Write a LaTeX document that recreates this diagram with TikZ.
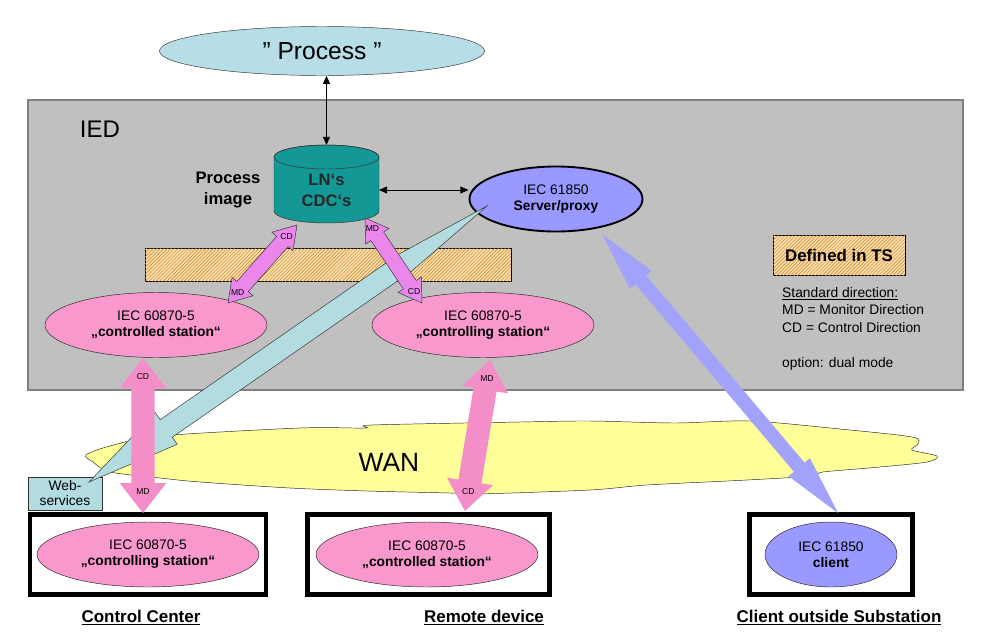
\documentclass[tikz,border=0pt]{standalone}
\usepackage{fontspec}
\setmainfont{Liberation Sans}
\usetikzlibrary{shapes.geometric, arrows.meta, patterns, calc}

\definecolor{procblue}{RGB}{183,221,230}
\definecolor{webblue}{RGB}{178,220,224}
\definecolor{iedgray}{RGB}{192,192,192}
\definecolor{iedborder}{RGB}{128,128,128}
\definecolor{dbteal}{RGB}{20,152,150}
\definecolor{lav}{RGB}{153,153,255}
\definecolor{lavarr}{RGB}{162,162,250}
\definecolor{pinkfill}{RGB}{248,152,204}
\definecolor{pinkarr}{RGB}{244,142,200}
\definecolor{mdviolet}{RGB}{235,135,235}
\definecolor{hatchbg}{RGB}{252,224,172}
\definecolor{hatchln}{RGB}{200,128,40}
\definecolor{wanyellow}{RGB}{255,255,153}

\tikzset{
  stat/.style={ellipse, draw=black!85, fill=pinkfill, minimum width=6.66cm, minimum height=1.95cm,
    inner sep=0pt, align=center, font=\fontsize{11.8}{13.6}\selectfont},
  hatchbox/.style={draw, fill=hatchbg, postaction={pattern=north east lines, pattern color=hatchln}},
  site/.style={draw, line width=4pt},
  sitecap/.style={font=\fontsize{14.5}{16}\selectfont\bfseries},
  boldlbl/.style={align=center, font=\fontsize{14.2}{18}\selectfont\bfseries},
  dirlbl/.style={font=\fontsize{7.3}{8}\selectfont, inner sep=0pt},
  linkarrow/.style={{Triangle[length=7pt,width=6pt]}-{Triangle[length=7pt,width=6pt]}, line width=0.8pt},
  mdcd/.style={draw=black!80, fill=mdviolet},
  pinkarrow/.style={fill=pinkarr},
  clientarrow/.style={fill=lavarr},
  webarrow/.style={draw=black!80, fill=webblue}
}

% block arrow with two heads: style, from, to, head length, head half width, shaft half width
\newcommand{\dblarrow}[6]{%
  \path[#1] (#2) -- ($(#2)!#4!(#3)!#5!90:(#3)$) -- ($(#2)!#4!(#3)!#6!90:(#3)$)
    -- ($(#3)!#4!(#2)!#6!-90:(#2)$) -- ($(#3)!#4!(#2)!#5!-90:(#2)$) -- (#3)
    -- ($(#3)!#4!(#2)!#5!90:(#2)$) -- ($(#3)!#4!(#2)!#6!90:(#2)$)
    -- ($(#2)!#4!(#3)!#6!-90:(#3)$) -- ($(#2)!#4!(#3)!#5!-90:(#3)$) -- cycle;}

\begin{document}
\begin{tikzpicture}[x=0.03cm, y=-0.03cm]
  \fill[white] (0,0) rectangle (981,641);
  \useasboundingbox (0,0) rectangle (981,641);

  % process and IED frame
  \node[ellipse, draw=black!80, fill=procblue, minimum width=9.75cm, minimum height=1.47cm,
    inner sep=0pt, font=\fontsize{21}{24}\selectfont] (proc) at (322,51) {" Process "};
  \draw[draw=iedborder, fill=iedgray, line width=2pt] (28,100) rectangle (963,390);
  \node[font=\fontsize{20.5}{24}\selectfont] (ied) at (100,129) {IED};
  \node[hatchbox, minimum width=10.98cm, minimum height=0.99cm] (tsbar) at (328,264.5) {};

  % process image
  \filldraw[fill=dbteal, draw=black!80] (274,157) -- (274,211)
    arc[start angle=180, end angle=0, x radius=52.5, y radius=12] -- (379,157)
    arc[start angle=0, end angle=-180, x radius=52.5, y radius=12] -- cycle;
  \draw[draw=black!80] (326.5,157) ellipse[x radius=52.5, y radius=12];
  \node[boldlbl, text=black!85] (db) at (326.5,190) {LN‘s\\CDC‘s};
  \node[boldlbl] (pimg) at (228,190) {Process\\image};
  \coordinate (dbtop) at (326.5,145);
  \coordinate (dbright) at (379,190);

  \node[ellipse, draw, line width=1.6pt, fill=lav, minimum width=5.19cm, minimum height=1.95cm,
    inner sep=0pt, align=center, font=\fontsize{11.8}{13.6}\selectfont] (srv) at (556,199)
    {IEC 61850\\\textbf{Server/proxy}};
  \draw[linkarrow] (proc.south -| dbtop) -- (dbtop);
  \draw[linkarrow] (dbright) -- (dbright -| srv.west);

  \node[stat] (ctrld) at (156,325) {IEC 60870-5\\\textbf{„controlled station“}};
  \node[stat] (ctrlg) at (483,325) {IEC 60870-5\\\textbf{„controlling station“}};

  % legend
  \node[hatchbox, minimum width=3.96cm, minimum height=1.2cm,
    font=\fontsize{14.4}{16}\selectfont\bfseries] (defts) at (839,255) {Defined in TS};
  \node[anchor=north west, align=left, inner sep=0pt, font=\fontsize{11.8}{14.9}\selectfont] (legend)
    at (782,287) {\underline{Standard direction:}\\MD = Monitor Direction\\CD = Control Direction\\[14.9pt]option: dual mode};

  % WAN
  \draw[fill=wanyellow, draw=black!85] plot[smooth cycle, tension=0.5] coordinates {
    (86,455) (110,446) (160,436) (300,428) (365,428) (372,425) (520,422) (590,421)
    (675,423) (750,421) (840,429) (912,437) (918,444) (912,450) (937,456) (927,462)
    (880,467) (823,472) (812,476) (747,480) (647,485) (590,490) (477,494) (450,493)
    (367,491) (290,488) (200,482) (160,478) (110,472) (93,462)};
  \node[font=\fontsize{22.5}{26}\selectfont] (wan) at (389,462) {WAN};

  \node[draw=black!80, fill=webblue, align=center, inner sep=0pt, minimum width=2.22cm,
    minimum height=0.99cm, font=\fontsize{11.8}{12.8}\selectfont] (web) at (65,493.5) {Web-\\services};

  % sites
  \node[site, minimum width=7.08cm, minimum height=2.4cm] (cc) at (148,554.5) {};
  \node[stat] (ccst) at (148,554.5) {IEC 60870-5\\\textbf{„controlling station“}};
  \node[sitecap] (cclbl) at (141,618) {\underline{Control Center}};
  \node[site, minimum width=7.26cm, minimum height=2.4cm] (rd) at (428.5,554.5) {};
  \node[stat] (rdst) at (427,554.5) {IEC 60870-5\\\textbf{„controlled station“}};
  \node[sitecap] (rdlbl) at (484,618) {\underline{Remote device}};
  \node[site, minimum width=4.9cm, minimum height=2.4cm] (cl) at (831,554.5) {};
  \node[stat, fill=lav, minimum width=3.96cm] (clst) at (831,554.5) {IEC 61850\\\textbf{client}};
  \node[sitecap] (cllbl) at (839,618) {\underline{Client outside Substation}};

  % web services arrow
  \coordinate (wsTop) at (487,206);
  \coordinate (wsTip) at (89,482);
  \path[webarrow] (wsTop) -- ($(wsTop)!3cm!(wsTip)!0.32cm!90:(wsTip)$)
    -- ($(wsTip)!2.82cm!(wsTop)!0.32cm!-90:(wsTop)$) -- ($(wsTip)!2.82cm!(wsTop)!0.58cm!-90:(wsTop)$)
    -- (wsTip) -- ($(wsTip)!2.82cm!(wsTop)!0.58cm!90:(wsTop)$)
    -- ($(wsTip)!2.82cm!(wsTop)!0.32cm!90:(wsTop)$) -- ($(wsTop)!3cm!(wsTip)!0.32cm!-90:(wsTip)$) -- cycle;

  % MD / CD arrows inside the IED
  \coordinate (v1a) at (297,225); \coordinate (v1b) at (228,303);
  \coordinate (v2a) at (365,218); \coordinate (v2b) at (422,303);
  \dblarrow{mdcd}{v1a}{v1b}{0.66cm}{0.42cm}{0.23cm}
  \dblarrow{mdcd}{v2a}{v2b}{0.66cm}{0.42cm}{0.23cm}
  \node[dirlbl] at ($(v1a)!0.15!(v1b)$) {CD};
  \node[dirlbl] at ($(v1a)!0.86!(v1b)$) {MD};
  \node[dirlbl] at ($(v2a)!0.13!(v2b)$) {MD};
  \node[dirlbl] at ($(v2a)!0.86!(v2b)$) {CD};

  % links through the WAN
  \coordinate (p1a) at (143,358); \coordinate (p1b) at (143,513);
  \coordinate (p2a) at (490,360); \coordinate (p2b) at (465,511);
  \dblarrow{pinkarrow}{p1a}{p1b}{0.9cm}{0.7cm}{0.35cm}
  \dblarrow{pinkarrow}{p2a}{p2b}{0.9cm}{0.7cm}{0.35cm}
  \node[dirlbl] at ($(p1a)!0.12!(p1b)$) {CD};
  \node[dirlbl] at ($(p1a)!0.86!(p1b)$) {MD};
  \node[dirlbl] at ($(p2a)!0.12!(p2b)$) {MD};
  \node[dirlbl] at ($(p2a)!0.87!(p2b)$) {CD};

  \coordinate (l1) at (602,234); \coordinate (l2) at (838,513);
  \dblarrow{clientarrow}{l1}{l2}{1.8cm}{0.42cm}{0.21cm}
\end{tikzpicture}
\end{document}
